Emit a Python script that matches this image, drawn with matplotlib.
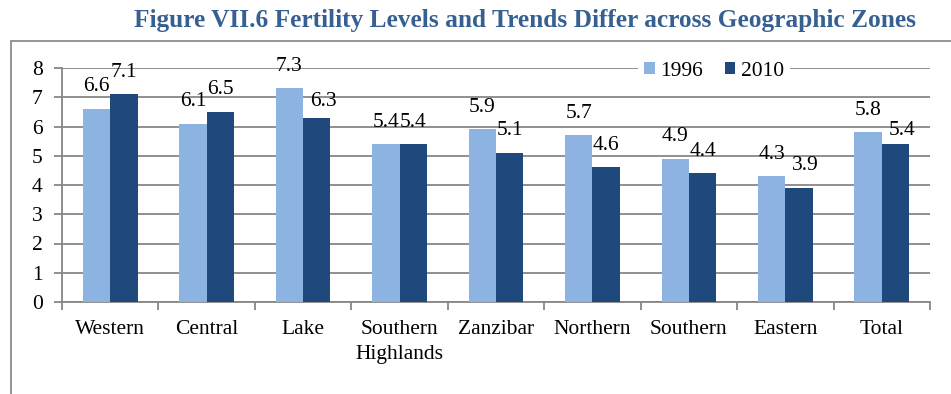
import numpy as np
import matplotlib
matplotlib.use('Agg')
import matplotlib.pyplot as plt
from matplotlib.patches import Rectangle

TITLE = 'Figure VII.6 Fertility Levels and Trends Differ across Geographic Zones'
ZONES = ['Western', 'Central', 'Lake', 'Southern\nHighlands', 'Zanzibar',
         'Northern', 'Southern', 'Eastern', 'Total']
TFR_1996 = [6.6, 6.1, 7.3, 5.4, 5.9, 5.7, 4.9, 4.3, 5.8]
TFR_2010 = [7.1, 6.5, 6.3, 5.4, 5.1, 4.6, 4.4, 3.9, 5.4]

LIGHT = '#8DB3E2'
DARK = '#1F497D'
GRID = '#878787'
DPI = 100
W, H = 951, 394
FS = 15.5

# a few labels sit a little off the default spot (pixels: dx, dy)
NUDGE_2010 = {2: (7, -6), 7: (6, 0), 8: (7, -8)}

plt.rcParams['font.family'] = ['Liberation Serif', 'DejaVu Serif']

fig = plt.figure(figsize=(W / DPI, H / DPI), dpi=DPI)

# outer frame that runs past the right and bottom edges
fig.patches.append(Rectangle((11 / W, -0.2), 1.2, (H - 40.5) / H + 0.2,
                             transform=fig.transFigure, fill=False,
                             edgecolor='#8c8c8c', lw=1.3, clip_on=False))

fig.text(525 / W, 1 - 21 / H, TITLE, ha='center', va='center',
         fontsize=18.3, fontweight='bold', color='#366092')

ax = fig.add_axes([62 / W, (H - 302) / H, (930 - 62) / W, (302 - 68) / H])

x = np.arange(len(ZONES))
bw = 0.283
b1 = ax.bar(x - bw / 2, TFR_1996, bw, color=LIGHT, label='1996', zorder=3)
b2 = ax.bar(x + bw / 2, TFR_2010, bw, color=DARK, label='2010', zorder=3)

px = 72 / DPI  # points per pixel
for i, (r, v) in enumerate(zip(b1, TFR_1996)):
    ax.annotate(f'{v:.1f}', (r.get_x() + r.get_width() / 2, v),
                xytext=(0, 22 * px), textcoords='offset points',
                ha='center', va='center', fontsize=FS)
for i, (r, v) in enumerate(zip(b2, TFR_2010)):
    dx, dy = NUDGE_2010.get(i, (0, 0))
    ax.annotate(f'{v:.1f}', (r.get_x() + r.get_width() / 2, v),
                xytext=(dx * px, (22 + dy) * px), textcoords='offset points',
                ha='center', va='center', fontsize=FS)

ax.set_xlim(-0.5, len(ZONES) - 0.5)
ax.set_ylim(0, 8)
ax.set_yticks(range(0, 9))
ax.set_xticks(x)
ax.set_xticklabels(ZONES, linespacing=1.45)
ax.set_xticks(np.arange(-0.5, len(ZONES)), minor=True)

ax.tick_params(axis='x', which='major', length=0, pad=13, labelsize=FS)
ax.tick_params(axis='x', which='minor', length=6, width=1.3, color=GRID)
ax.tick_params(axis='y', length=6, width=1.3, color=GRID, pad=8, labelsize=FS)

ax.yaxis.grid(True, color=GRID, lw=1.3, zorder=0)
ax.set_axisbelow(True)
for s in ['top', 'right']:
    ax.spines[s].set_visible(False)
for s in ['left', 'bottom']:
    ax.spines[s].set_color(GRID)
    ax.spines[s].set_linewidth(1.3)

leg = ax.legend(loc='center', bbox_to_anchor=(714 / W, 1 - 71 / H),
                bbox_transform=fig.transFigure, ncol=2, frameon=True,
                fontsize=FS, handlelength=0.5, handleheight=0.5,
                handletextpad=0.25, columnspacing=1.0, borderpad=0.3)
leg.get_frame().set_edgecolor('none')
leg.get_frame().set_facecolor('white')
leg.get_frame().set_alpha(1)
leg.set_zorder(5)

fig.savefig('out.png', dpi=DPI)
